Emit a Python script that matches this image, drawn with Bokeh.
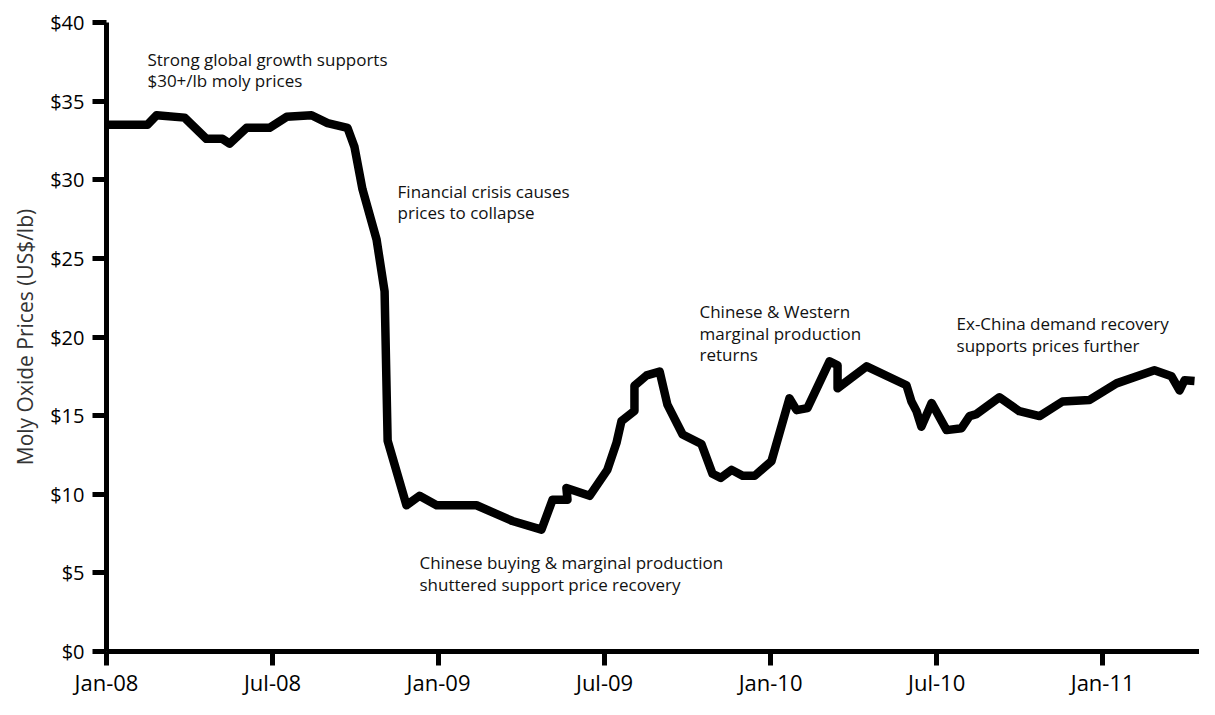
from bokeh.plotting import figure
from bokeh.models import Range1d, FixedTicker, ColumnDataSource
from bokeh.core.properties import value
from bokeh.embed import file_html
from bokeh.resources import INLINE

# months since Jan-2008
months = [0.0, 1.48, 1.81, 2.82, 3.61, 4.19, 4.45, 5.06, 5.89, 6.51, 7.41, 7.99,
          8.71, 8.96, 9.25, 9.76, 10.05, 10.16, 10.84, 11.31, 11.93, 13.37, 14.67,
          15.72, 16.12, 16.66, 16.62, 17.46, 18.10, 18.43, 18.61, 19.08, 19.08,
          19.52, 19.99, 20.27, 20.82, 21.50, 21.90, 22.20, 22.59, 22.99, 23.42,
          24.03, 24.68, 24.94, 25.33, 26.13, 26.42, 26.42, 27.47, 28.91, 29.09,
          29.27, 29.45, 29.82, 30.36, 30.90, 31.19, 31.44, 32.27, 32.99, 33.72,
          34.55, 35.53, 36.50, 37.87, 38.49, 38.78, 38.96, 39.32]
prices = [33.5, 33.5, 34.1, 33.95, 32.6, 32.6, 32.3, 33.3, 33.3, 34.0, 34.1, 33.6,
          33.3, 32.1, 29.4, 26.2, 22.9, 13.4, 9.3, 9.9, 9.3, 9.3, 8.3,
          7.75, 9.65, 9.65, 10.4, 9.9, 11.55, 13.26, 14.65, 15.3, 16.9,
          17.56, 17.8, 15.7, 13.8, 13.2, 11.3, 11.04, 11.55, 11.17, 11.17,
          12.1, 16.1, 15.35, 15.48, 18.45, 18.2, 16.74, 18.13, 16.93, 15.9,
          15.3, 14.3, 15.8, 14.08, 14.2, 14.97, 15.1, 16.17, 15.28, 14.97,
          15.9, 16.0, 17.05, 17.88, 17.5, 16.6, 17.25, 17.2]

x_ticks = [0, 6, 12, 18, 24, 30, 36]
x_tick_labels = ["Jan-08", "Jul-08", "Jan-09", "Jul-09", "Jan-10", "Jul-10", "Jan-11"]
y_ticks = [0, 5, 10, 15, 20, 25, 30, 35, 40]
y_tick_labels = ["$0", "$5", "$10", "$15", "$20", "$25", "$30", "$35", "$40"]

ann_x = [1.48, 10.52, 21.43, 30.72, 11.31]
ann_y = [37.66, 29.27, 21.61, 20.85, 5.66]
ann_lines = [
    ["Strong global growth supports", "$30+/lb moly prices"],
    ["Financial crisis causes", "prices to collapse"],
    ["Chinese & Western", "marginal production", "returns"],
    ["Ex-China demand recovery", "supports prices further"],
    ["Chinese buying & marginal production", "shuttered support price recovery"],
]
line_step = 1.37  # one text line, in $ units

FONT = "Open Sans"

p = figure(width=1199, height=699, output_backend="svg", toolbar_location=None,
           x_range=Range1d(0, 39.5), y_range=Range1d(0, 40),
           min_border_left=106, min_border_right=0, min_border_top=22,
           min_border_bottom=46)
p.outline_line_color = None
p.xgrid.visible = False
p.ygrid.visible = False
p.background_fill_color = "white"
p.border_fill_color = "white"

src = ColumnDataSource(dict(x=months, y=prices))
p.line("x", "y", source=src, line_color="black", line_width=8.5, line_join="round")

tx, ty, tt = [], [], []
for ax, ay, lines in zip(ann_x, ann_y, ann_lines):
    for i, t in enumerate(lines):
        tx.append(ax)
        ty.append(ay - i * line_step)
        tt.append(t)
p.text(x=tx, y=ty, text=tt, text_font=value(FONT), text_font_size="17px",
       text_color="#111111", text_baseline="middle", text_align="left")

xa = p.xaxis[0]
xa.ticker = FixedTicker(ticks=x_ticks)
xa.major_label_overrides = {t: l for t, l in zip(x_ticks, x_tick_labels)}
xa.axis_line_width = 5
xa.axis_line_color = "black"
xa.major_tick_line_width = 5
xa.major_tick_line_color = "black"
xa.major_tick_out = 14
xa.major_tick_in = 0
xa.minor_tick_line_color = None
xa.major_label_text_font = FONT
xa.major_label_text_font_size = "22px"
xa.major_label_text_color = "black"
xa.major_label_standoff = 1

ya = p.yaxis[0]
ya.ticker = FixedTicker(ticks=y_ticks)
ya.major_label_overrides = {t: l for t, l in zip(y_ticks, y_tick_labels)}
ya.axis_line_width = 5
ya.axis_line_color = "black"
ya.major_tick_line_width = 5
ya.major_tick_line_color = "black"
ya.major_tick_out = 14
ya.major_tick_in = 0
ya.minor_tick_line_color = None
ya.major_label_text_font = FONT
ya.major_label_text_font_size = "20px"
ya.major_label_text_color = "black"
ya.major_label_standoff = 8
ya.axis_label = "Moly Oxide Prices (US$/lb)"
ya.axis_label_text_font = FONT
ya.axis_label_text_font_style = "normal"
ya.axis_label_text_font_size = "21px"
ya.axis_label_text_color = "#333333"
ya.axis_label_standoff = 8

open("out.html", "w").write(file_html(p, INLINE))
